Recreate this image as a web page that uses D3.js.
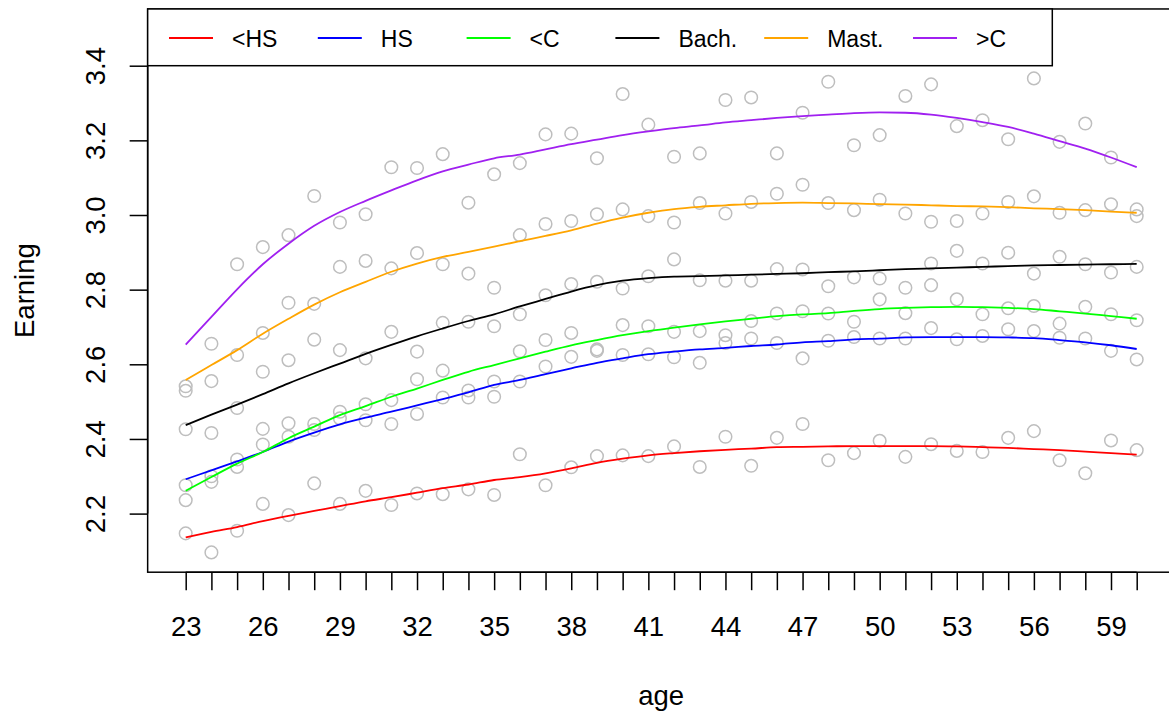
<!DOCTYPE html>
<html><head><meta charset="utf-8">
<script src="https://cdn.jsdelivr.net/npm/d3@7"></script>
<style>body{margin:0;background:#fff} svg text{font-family:"Liberation Sans",Arial,Helvetica,sans-serif}</style>
</head><body><svg id="c" width="1169" height="722"></svg>
<script>
const ages = [23,24,25,26,27,28,29,30,31,32,33,34,35,36,37,38,39,40,41,42,43,44,45,46,47,48,49,50,51,52,53,54,55,56,57,58,59,60];
const groups = ["<HS","HS","<C","Bach.","Mast.",">C"];
const colors = ["#FF0000","#0000FF","#00FF00","#000000","#FFA500","#A020F0"];
const xTickLabels = [23,26,29,32,35,38,41,44,47,50,53,56,59];
const yTicks = [2.2,2.4,2.6,2.8,3.0,3.2,3.4];

// observed points per group
const ptsLHS = [2.147,2.096,2.154,2.226,2.196,2.281,2.226,2.261,2.223,2.254,2.252,2.265,2.250,2.359,2.276,2.324,2.354,2.356,2.354,2.380,2.325,2.406,2.328,2.403,2.440,2.343,2.362,2.395,2.352,2.386,2.368,2.365,2.403,2.421,2.343,2.308,2.396,2.370];
const ptsHS  = [2.236,2.285,2.325,2.385,2.406,2.424,2.455,2.450,2.440,2.467,2.511,2.511,2.513,2.554,2.594,2.620,2.636,2.625,2.627,2.619,2.604,2.657,2.669,2.657,2.616,2.663,2.673,2.669,2.669,2.697,2.667,2.676,2.694,2.689,2.671,2.669,2.636,2.613];
const ptsLC  = [2.276,2.300,2.345,2.427,2.442,2.440,2.473,2.493,2.504,2.560,2.583,2.530,2.554,2.635,2.665,2.684,2.640,2.705,2.702,2.687,2.689,2.678,2.716,2.736,2.742,2.736,2.714,2.774,2.737,2.812,2.774,2.734,2.750,2.756,2.709,2.754,2.734,2.718];
const ptsBach= [2.426,2.416,2.483,2.580,2.611,2.666,2.638,2.616,2.687,2.634,2.711,2.714,2.702,2.734,2.785,2.815,2.821,2.803,2.836,2.881,2.825,2.824,2.824,2.855,2.854,2.809,2.833,2.830,2.805,2.870,2.904,2.870,2.899,2.843,2.888,2.868,2.846,2.861];
const ptsMast= [2.529,2.555,2.625,2.684,2.765,2.762,2.861,2.877,2.857,2.898,2.868,2.843,2.805,2.946,2.976,2.984,3.002,3.015,2.997,2.980,3.032,3.004,3.035,3.057,3.081,3.032,3.013,3.041,3.004,2.982,2.984,3.004,3.035,3.050,3.006,3.013,3.029,2.997];
const ptsGC  = [2.541,2.655,2.868,2.914,2.946,3.051,2.980,3.002,3.128,3.126,3.163,3.033,3.109,3.139,3.216,3.218,3.152,3.324,3.242,3.156,3.165,3.308,3.315,3.165,3.274,3.357,3.187,3.214,3.319,3.350,3.238,3.254,3.203,3.366,3.196,3.245,3.154,3.015];

// smoothed curves per group
const fitLHS = [2.136,2.151,2.164,2.180,2.194,2.207,2.220,2.233,2.244,2.256,2.268,2.278,2.290,2.298,2.308,2.321,2.336,2.347,2.356,2.362,2.367,2.371,2.374,2.378,2.379,2.380,2.381,2.381,2.381,2.381,2.380,2.378,2.376,2.373,2.370,2.366,2.362,2.358];
const fitHS  = [2.292,2.316,2.340,2.365,2.393,2.417,2.439,2.457,2.473,2.490,2.507,2.525,2.545,2.558,2.574,2.589,2.604,2.616,2.627,2.634,2.640,2.644,2.649,2.653,2.659,2.662,2.667,2.669,2.672,2.673,2.673,2.673,2.672,2.670,2.665,2.659,2.651,2.641];
const fitLC  = [2.261,2.298,2.334,2.365,2.402,2.433,2.464,2.488,2.513,2.535,2.558,2.580,2.598,2.616,2.634,2.651,2.665,2.678,2.689,2.698,2.707,2.715,2.722,2.729,2.734,2.737,2.743,2.748,2.751,2.753,2.754,2.753,2.751,2.748,2.742,2.736,2.729,2.722];
const fitBach= [2.437,2.465,2.492,2.520,2.549,2.576,2.602,2.628,2.652,2.675,2.696,2.716,2.734,2.755,2.775,2.795,2.812,2.824,2.831,2.835,2.836,2.838,2.840,2.842,2.844,2.847,2.849,2.852,2.855,2.857,2.859,2.861,2.863,2.865,2.866,2.867,2.868,2.869];
const fitMast= [2.558,2.598,2.638,2.682,2.722,2.760,2.793,2.821,2.848,2.870,2.888,2.901,2.915,2.930,2.944,2.959,2.977,2.993,3.006,3.016,3.022,3.026,3.030,3.032,3.033,3.032,3.031,3.029,3.028,3.026,3.024,3.023,3.021,3.018,3.016,3.013,3.009,3.006];
const fitGC  = [2.653,2.727,2.801,2.868,2.923,2.971,3.008,3.038,3.066,3.093,3.117,3.135,3.152,3.162,3.176,3.190,3.202,3.214,3.224,3.233,3.240,3.248,3.254,3.260,3.265,3.269,3.273,3.275,3.274,3.269,3.260,3.249,3.236,3.218,3.198,3.178,3.154,3.128];

const pts = [ptsLHS,ptsHS,ptsLC,ptsBach,ptsMast,ptsGC];
const fits = [fitLHS,fitHS,fitLC,fitBach,fitMast,fitGC];

const svg = d3.select("#c");
const x = d3.scaleLinear().domain([23,60]).range([185.7,1136.7]);
const y = d3.scaleLinear().domain([2.2,3.4]).range([513.6,65.7]);
const frame = {l: x(21.52), r: x(61.48), t: y(3.552), b: y(2.043)};
const FS = 27.5, LFS = 23;
const FONT = "Liberation Sans, Arial, sans-serif";

// points
const ptData = [];
pts.forEach(arr => arr.forEach((v,i) => ptData.push([ages[i], v])));
svg.append("g").selectAll("circle").data(ptData).join("circle")
  .attr("cx", d => x(d[0])).attr("cy", d => y(d[1])).attr("r", 6.3)
  .attr("fill","none").attr("stroke","#BEBEBE").attr("stroke-width",1.5);

// lines
const line = d3.line().x((d,i) => x(ages[i])).y(d => y(d)).curve(d3.curveMonotoneX);
fits.forEach((f,k) => {
  svg.append("path").attr("d", line(f)).attr("fill","none")
    .attr("stroke", colors[k]).attr("stroke-width", 1.8);
});

// frame
svg.append("rect").attr("x",frame.l).attr("y",frame.t).attr("width",frame.r-frame.l).attr("height",frame.b-frame.t)
  .attr("fill","none").attr("stroke","#000").attr("stroke-width",1.5);

// x axis
const xa = svg.append("g").attr("transform",`translate(0,${frame.b})`)
  .call(d3.axisBottom(x).tickValues(ages).tickSize(18).tickPadding(26)
    .tickFormat(d => xTickLabels.includes(d) ? String(d) : ""));
xa.select(".domain").attr("d", `M${x(23)},0H${x(60)}`).attr("stroke-width",1.5);
xa.selectAll("line").attr("stroke-width",1.5);
xa.selectAll("text").attr("font-size",FS).attr("font-family",FONT).attr("fill","#000");

// y axis
const ya = svg.append("g").attr("transform",`translate(${frame.l},0)`)
  .call(d3.axisLeft(y).tickValues(yTicks).tickSize(18).tickFormat(d3.format(".1f")));
ya.select(".domain").attr("d", `M0,${y(2.2)}V${y(3.4)}`).attr("stroke-width",1.5);
ya.selectAll("line").attr("stroke-width",1.5);
ya.selectAll("text").attr("font-size",FS).attr("font-family",FONT).attr("fill","#000")
  .attr("x",null).attr("dy",null).attr("text-anchor","middle")
  .attr("transform","translate(-43,0) rotate(-90)");

// axis titles
svg.append("text").attr("x", (frame.l+frame.r)/2).attr("y", 705).attr("text-anchor","middle")
  .attr("font-size",FS).text("age");
svg.append("text").attr("transform", `translate(33.5,${(frame.t+frame.b)/2}) rotate(-90)`).attr("text-anchor","middle")
  .attr("font-size",FS).text("Earning");

// legend
const lg = svg.append("g");
lg.append("rect").attr("x",frame.l).attr("y",frame.t).attr("width",1052.3-frame.l).attr("height",65.7-frame.t)
  .attr("fill","#fff").attr("stroke","#000").attr("stroke-width",1.5);
groups.forEach((g,k) => {
  const x0 = 169 + 148.8*k;
  lg.append("line").attr("x1",x0).attr("x2",x0+44).attr("y1",38).attr("y2",38)
    .attr("stroke",colors[k]).attr("stroke-width",1.8);
  lg.append("text").attr("x",x0+63).attr("y",46.5).attr("font-size",LFS).text(g);
});
</script></body></html>
